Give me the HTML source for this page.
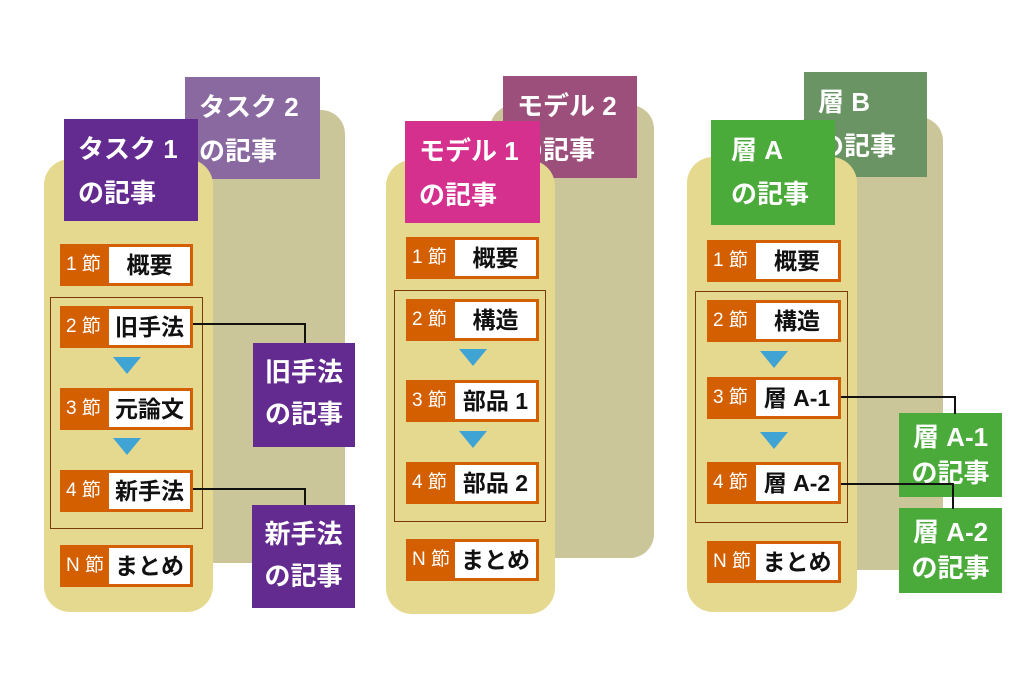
<!DOCTYPE html>
<html><head><meta charset="utf-8"><style>
*{margin:0;padding:0;box-sizing:border-box}
body{width:1024px;height:683px;background:#fff;position:relative;overflow:hidden;font-family:"Liberation Sans","Noto Sans CJK JP",sans-serif}
.bp{position:absolute;background:#cbc69a;border-radius:24px}
.fp{position:absolute;background:#e5d98f;border-radius:26px}
.hd{position:absolute;color:#fff;font-weight:bold;font-size:26px;line-height:44px;padding:8px 0 0 14px;white-space:nowrap;overflow:hidden}
.row{position:absolute;background:#d35f00;height:42px}
.row .l{position:absolute;left:6px;top:0;line-height:42px;color:#fff;font-size:19px;white-space:nowrap}
.row .w{position:absolute;left:49px;top:3px;right:3px;bottom:3px;background:#fff;color:#111;font-weight:bold;font-size:23px;line-height:36px;text-align:center;white-space:nowrap}
.grp{position:absolute;border:1.5px solid #7a3a0a}
.tri{position:absolute;width:0;height:0;border-left:14px solid transparent;border-right:14px solid transparent;border-top:17px solid #3fa3d4}
.ab{position:absolute;color:#fff;font-weight:bold;font-size:26px;line-height:42px;text-align:center;white-space:nowrap;padding-top:8px}
.ln{position:absolute;background:#111}
</style></head><body>

<!-- Column 1 -->
<div class="bp" style="left:190px;top:110px;width:155px;height:453px"></div>
<div class="hd" style="left:185px;top:77px;width:135px;height:102px;background:#8a69a0">タスク 2<br>の記事</div>
<div class="fp" style="left:44px;top:159px;width:169px;height:453px"></div>
<div class="hd" style="left:64px;top:119px;width:134px;height:102px;background:#632b8f">タスク 1<br>の記事</div>
<div class="row" style="left:60px;top:244px;width:133px"><span class="l">1 節</span><div class="w">概要</div></div>
<div class="grp" style="left:50px;top:297px;width:153px;height:232px"></div>
<div class="row" style="left:60px;top:306px;width:133px"><span class="l">2 節</span><div class="w">旧手法</div></div>
<div class="tri" style="left:113px;top:357px"></div>
<div class="row" style="left:60px;top:388px;width:133px"><span class="l">3 節</span><div class="w">元論文</div></div>
<div class="tri" style="left:113px;top:438px"></div>
<div class="row" style="left:60px;top:470px;width:133px"><span class="l">4 節</span><div class="w">新手法</div></div>
<div class="row" style="left:60px;top:545px;width:133px"><span class="l">N 節</span><div class="w">まとめ</div></div>
<div class="ln" style="left:193px;top:323px;width:113px;height:2px"></div>
<div class="ln" style="left:304px;top:323px;width:2px;height:21px"></div>
<div class="ab" style="left:253px;top:343px;width:102px;height:104px;background:#632b8f">旧手法<br>の記事</div>
<div class="ln" style="left:193px;top:488px;width:113px;height:2px"></div>
<div class="ln" style="left:304px;top:488px;width:2px;height:18px"></div>
<div class="ab" style="left:252px;top:505px;width:103px;height:103px;background:#632b8f">新手法<br>の記事</div>

<!-- Column 2 -->
<div class="bp" style="left:490px;top:105px;width:164px;height:453px"></div>
<div class="hd" style="left:503px;top:76px;width:134px;height:102px;background:#9b4f7a">モデル 2<br>の記事</div>
<div class="fp" style="left:386px;top:160px;width:169px;height:454px"></div>
<div class="hd" style="left:405px;top:121px;width:135px;height:102px;background:#d6308f">モデル 1<br>の記事</div>
<div class="row" style="left:406px;top:237px;width:133px"><span class="l">1 節</span><div class="w">概要</div></div>
<div class="grp" style="left:394px;top:290px;width:152px;height:232px"></div>
<div class="row" style="left:406px;top:299px;width:133px"><span class="l">2 節</span><div class="w">構造</div></div>
<div class="tri" style="left:459px;top:349px"></div>
<div class="row" style="left:406px;top:380px;width:133px"><span class="l">3 節</span><div class="w">部品 1</div></div>
<div class="tri" style="left:459px;top:431px"></div>
<div class="row" style="left:406px;top:462px;width:133px"><span class="l">4 節</span><div class="w">部品 2</div></div>
<div class="row" style="left:406px;top:539px;width:133px"><span class="l">N 節</span><div class="w">まとめ</div></div>

<!-- Column 3 -->
<div class="bp" style="left:790px;top:117px;width:153px;height:453px"></div>
<div class="hd" style="left:804px;top:72px;width:123px;height:105px;background:#6a9464">層 B<br>の記事</div>
<div class="fp" style="left:687px;top:157px;width:170px;height:455px"></div>
<div class="hd" style="left:711px;top:120px;width:124px;height:105px;background:#4aab3a;padding-left:20px">層 A<br>の記事</div>
<div class="row" style="left:707px;top:240px;width:134px"><span class="l">1 節</span><div class="w">概要</div></div>
<div class="grp" style="left:695px;top:291px;width:153px;height:232px"></div>
<div class="row" style="left:707px;top:300px;width:134px"><span class="l">2 節</span><div class="w">構造</div></div>
<div class="tri" style="left:760px;top:351px"></div>
<div class="row" style="left:707px;top:377px;width:134px"><span class="l">3 節</span><div class="w">層 A-1</div></div>
<div class="tri" style="left:760px;top:432px"></div>
<div class="row" style="left:707px;top:462px;width:134px"><span class="l">4 節</span><div class="w">層 A-2</div></div>
<div class="row" style="left:707px;top:541px;width:134px"><span class="l">N 節</span><div class="w">まとめ</div></div>
<div class="ab" style="left:899px;top:413px;width:103px;height:84px;background:#4aab3a;line-height:36px;padding-top:6px">層 A-1<br>の記事</div>
<div class="ab" style="left:899px;top:508px;width:103px;height:85px;background:#4aab3a;line-height:36px;padding-top:6px">層 A-2<br>の記事</div>
<div class="ln" style="left:841px;top:396px;width:115px;height:2px"></div>
<div class="ln" style="left:954px;top:396px;width:2px;height:18px"></div>
<div class="ln" style="left:841px;top:483px;width:113px;height:2px"></div>
<div class="ln" style="left:952px;top:483px;width:2px;height:26px"></div>
</body></html>
